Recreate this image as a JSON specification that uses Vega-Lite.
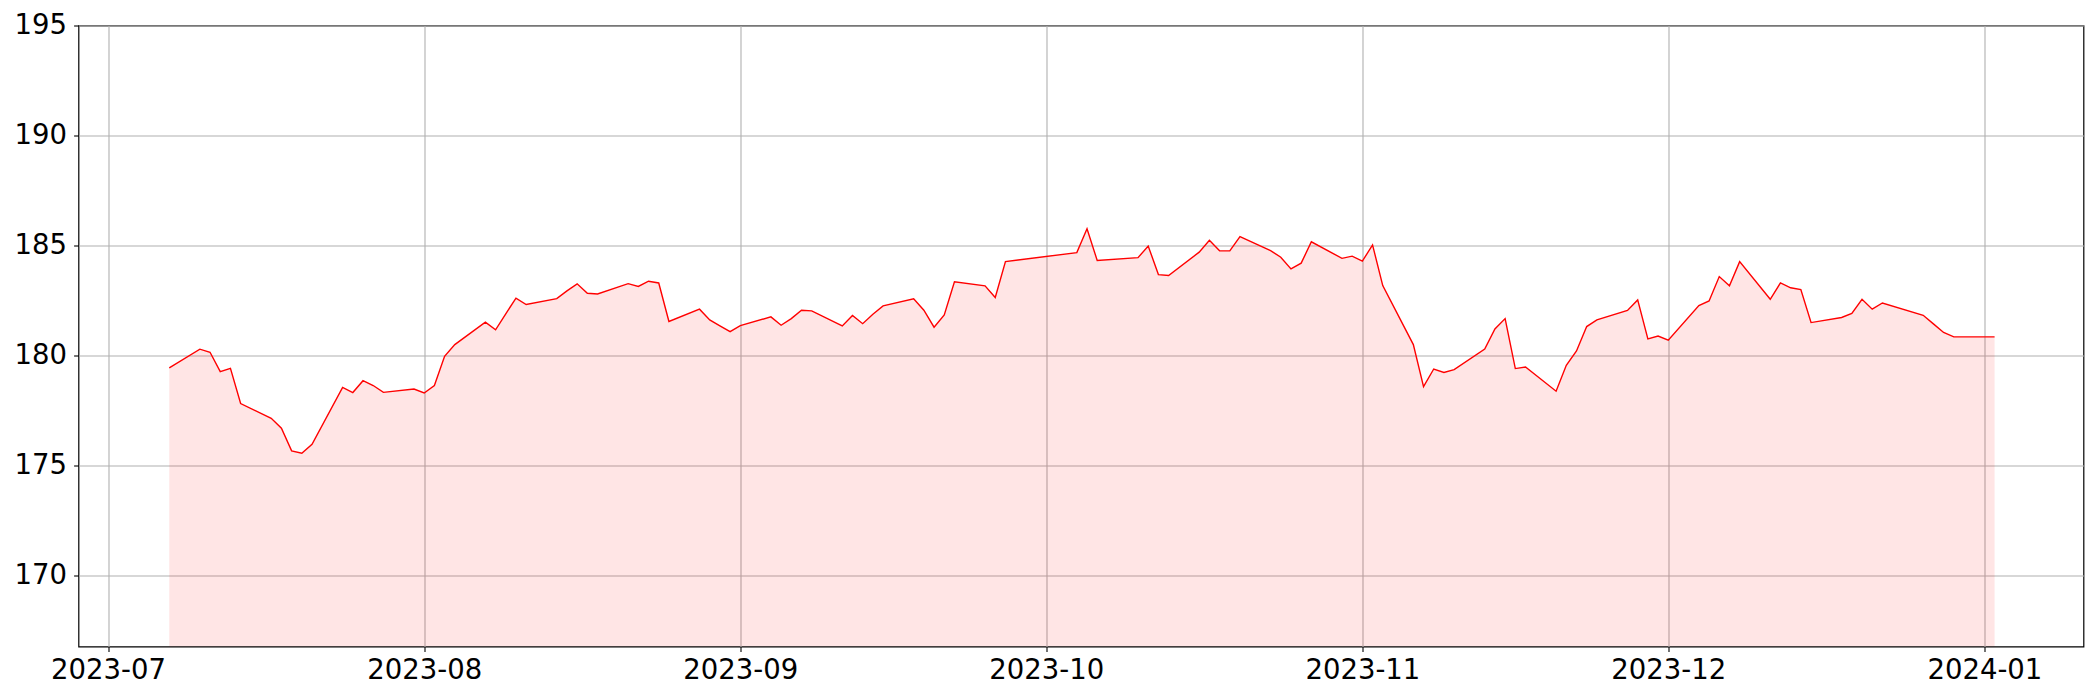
{
  "$schema": "https://vega.github.io/schema/vega-lite/v6.json",
  "width": 2005,
  "height": 621,
  "autosize": {"type": "none"},
  "padding": {"left": 78.5, "top": 25.5, "right": 16.5, "bottom": 53.5},
  "background": "white",
  "config": {
    "view": {"stroke": "black", "strokeWidth": 1.2},
    "axis": {
      "labelFont": "DejaVu Sans",
      "labelFontSize": 27.5,
      "labelColor": "black",
      "tickColor": "black",
      "tickSize": 4.9,
      "tickWidth": 1.1,
      "domain": false,
      "grid": true,
      "gridColor": "#b0b0b0",
      "gridWidth": 1.1,
      "title": null
    }
  },
  "data": {
    "values": [
      {"date": "2023-07-07", "price": 179.44},
      {"date": "2023-07-10", "price": 180.29},
      {"date": "2023-07-11", "price": 180.15},
      {"date": "2023-07-12", "price": 179.27},
      {"date": "2023-07-13", "price": 179.42},
      {"date": "2023-07-14", "price": 177.82},
      {"date": "2023-07-17", "price": 177.15},
      {"date": "2023-07-18", "price": 176.70},
      {"date": "2023-07-19", "price": 175.67},
      {"date": "2023-07-20", "price": 175.56},
      {"date": "2023-07-21", "price": 175.97},
      {"date": "2023-07-24", "price": 178.55},
      {"date": "2023-07-25", "price": 178.32},
      {"date": "2023-07-26", "price": 178.86},
      {"date": "2023-07-27", "price": 178.64},
      {"date": "2023-07-28", "price": 178.33},
      {"date": "2023-07-31", "price": 178.48},
      {"date": "2023-08-01", "price": 178.30},
      {"date": "2023-08-02", "price": 178.64},
      {"date": "2023-08-03", "price": 179.97},
      {"date": "2023-08-04", "price": 180.50},
      {"date": "2023-08-07", "price": 181.52},
      {"date": "2023-08-08", "price": 181.17},
      {"date": "2023-08-09", "price": 181.90},
      {"date": "2023-08-10", "price": 182.61},
      {"date": "2023-08-11", "price": 182.32},
      {"date": "2023-08-14", "price": 182.59},
      {"date": "2023-08-15", "price": 182.94},
      {"date": "2023-08-16", "price": 183.26},
      {"date": "2023-08-17", "price": 182.83},
      {"date": "2023-08-18", "price": 182.80},
      {"date": "2023-08-21", "price": 183.27},
      {"date": "2023-08-22", "price": 183.14},
      {"date": "2023-08-23", "price": 183.38},
      {"date": "2023-08-24", "price": 183.30},
      {"date": "2023-08-25", "price": 181.55},
      {"date": "2023-08-28", "price": 182.11},
      {"date": "2023-08-29", "price": 181.62},
      {"date": "2023-08-30", "price": 181.35},
      {"date": "2023-08-31", "price": 181.09},
      {"date": "2023-09-01", "price": 181.36},
      {"date": "2023-09-04", "price": 181.76},
      {"date": "2023-09-05", "price": 181.38},
      {"date": "2023-09-06", "price": 181.68},
      {"date": "2023-09-07", "price": 182.06},
      {"date": "2023-09-08", "price": 182.03},
      {"date": "2023-09-11", "price": 181.35},
      {"date": "2023-09-12", "price": 181.82},
      {"date": "2023-09-13", "price": 181.45},
      {"date": "2023-09-14", "price": 181.88},
      {"date": "2023-09-15", "price": 182.26},
      {"date": "2023-09-18", "price": 182.58},
      {"date": "2023-09-19", "price": 182.06},
      {"date": "2023-09-20", "price": 181.29},
      {"date": "2023-09-21", "price": 181.85},
      {"date": "2023-09-22", "price": 183.35},
      {"date": "2023-09-25", "price": 183.17},
      {"date": "2023-09-26", "price": 182.64},
      {"date": "2023-09-27", "price": 184.27},
      {"date": "2023-10-04", "price": 184.68},
      {"date": "2023-10-05", "price": 185.76},
      {"date": "2023-10-06", "price": 184.32},
      {"date": "2023-10-10", "price": 184.45},
      {"date": "2023-10-11", "price": 184.98},
      {"date": "2023-10-12", "price": 183.68},
      {"date": "2023-10-13", "price": 183.64},
      {"date": "2023-10-16", "price": 184.70},
      {"date": "2023-10-17", "price": 185.24},
      {"date": "2023-10-18", "price": 184.76},
      {"date": "2023-10-19", "price": 184.76},
      {"date": "2023-10-20", "price": 185.41},
      {"date": "2023-10-23", "price": 184.77},
      {"date": "2023-10-24", "price": 184.47},
      {"date": "2023-10-25", "price": 183.94},
      {"date": "2023-10-26", "price": 184.20},
      {"date": "2023-10-27", "price": 185.17},
      {"date": "2023-10-30", "price": 184.42},
      {"date": "2023-10-31", "price": 184.52},
      {"date": "2023-11-01", "price": 184.29},
      {"date": "2023-11-02", "price": 185.03},
      {"date": "2023-11-03", "price": 183.18},
      {"date": "2023-11-06", "price": 180.50},
      {"date": "2023-11-07", "price": 178.59},
      {"date": "2023-11-08", "price": 179.39},
      {"date": "2023-11-09", "price": 179.23},
      {"date": "2023-11-10", "price": 179.36},
      {"date": "2023-11-13", "price": 180.30},
      {"date": "2023-11-14", "price": 181.21},
      {"date": "2023-11-15", "price": 181.68},
      {"date": "2023-11-16", "price": 179.41},
      {"date": "2023-11-17", "price": 179.48},
      {"date": "2023-11-20", "price": 178.38},
      {"date": "2023-11-21", "price": 179.56},
      {"date": "2023-11-22", "price": 180.21},
      {"date": "2023-11-23", "price": 181.32},
      {"date": "2023-11-24", "price": 181.62},
      {"date": "2023-11-27", "price": 182.05},
      {"date": "2023-11-28", "price": 182.53},
      {"date": "2023-11-29", "price": 180.76},
      {"date": "2023-11-30", "price": 180.89},
      {"date": "2023-12-01", "price": 180.70},
      {"date": "2023-12-04", "price": 182.27},
      {"date": "2023-12-05", "price": 182.48},
      {"date": "2023-12-06", "price": 183.59},
      {"date": "2023-12-07", "price": 183.17},
      {"date": "2023-12-08", "price": 184.27},
      {"date": "2023-12-11", "price": 182.56},
      {"date": "2023-12-12", "price": 183.30},
      {"date": "2023-12-13", "price": 183.08},
      {"date": "2023-12-14", "price": 183.00},
      {"date": "2023-12-15", "price": 181.50},
      {"date": "2023-12-18", "price": 181.73},
      {"date": "2023-12-19", "price": 181.92},
      {"date": "2023-12-20", "price": 182.56},
      {"date": "2023-12-21", "price": 182.11},
      {"date": "2023-12-22", "price": 182.39},
      {"date": "2023-12-26", "price": 181.83},
      {"date": "2023-12-27", "price": 181.44},
      {"date": "2023-12-28", "price": 181.05},
      {"date": "2023-12-29", "price": 180.85},
      {"date": "2024-01-02", "price": 180.85}
    ]
  },
  "encoding": {
    "x": {
      "field": "date",
      "type": "temporal",
      "scale": {
        "type": "utc",
        "domain": [
          {"year": 2023, "month": 6, "date": 28, "hours": 2, "minutes": 24, "utc": true},
          {"year": 2024, "month": 1, "date": 10, "hours": 17, "minutes": 15, "utc": true}
        ],
        "nice": false
      },
      "axis": {
        "values": [
          {"year": 2023, "month": 7, "date": 1, "utc": true},
          {"year": 2023, "month": 8, "date": 1, "utc": true},
          {"year": 2023, "month": 9, "date": 1, "utc": true},
          {"year": 2023, "month": 10, "date": 1, "utc": true},
          {"year": 2023, "month": 11, "date": 1, "utc": true},
          {"year": 2023, "month": 12, "date": 1, "utc": true},
          {"year": 2024, "month": 1, "date": 1, "utc": true}
        ],
        "format": "%Y-%m",
        "labelPadding": 5,
        "labelFlush": false,
        "labelOverlap": false
      }
    },
    "y": {
      "field": "price",
      "type": "quantitative",
      "scale": {"domain": [166.78, 195], "nice": false, "zero": false},
      "axis": {
        "values": [170, 175, 180, 185, 190, 195],
        "labelPadding": 7,
        "labelFlush": false,
        "labelOverlap": false
      }
    }
  },
  "layer": [
    {
      "mark": {"type": "area", "color": "red", "opacity": 0.1, "clip": true},
      "encoding": {"y2": {"datum": 166.78}}
    },
    {
      "mark": {"type": "line", "color": "red", "strokeWidth": 1.4, "clip": true}
    }
  ]
}
